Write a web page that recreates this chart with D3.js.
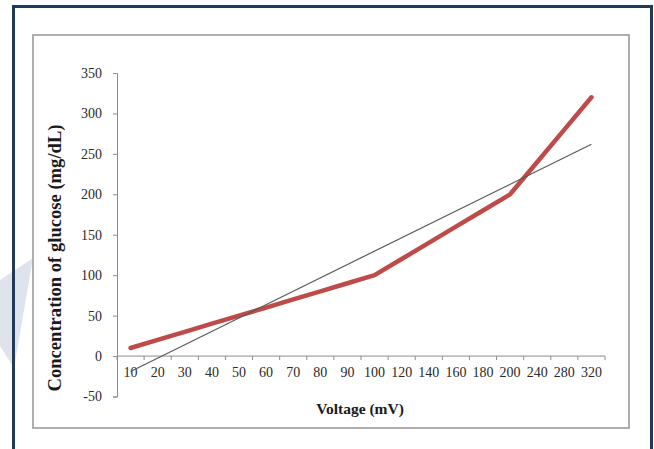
<!DOCTYPE html>
<html>
<head>
<meta charset="utf-8">
<script src="https://cdn.jsdelivr.net/npm/d3@7/dist/d3.min.js"></script>
<style>
  html, body { margin: 0; padding: 0; background: #ffffff; }
  svg { display: block; }
</style>
</head>
<body>
<svg id="chart" width="654" height="449"></svg>
<script>
// ---- data ----
const categories = ["10","20","30","40","50","60","70","80","90","100","120","140","160","180","200","240","280","320"];
const glucose = [10, 20, 30, 40, 50, 60, 70, 80, 90, 100, 120, 140, 160, 180, 200, 240, 280, 320];
const trendCategories = ["10", "320"];
const trendValues = [-19, 262];
const yTicks = [-50, 0, 50, 100, 150, 200, 250, 300, 350];
const xTitle = "Voltage (mV)";
const yTitle = "Concentration of glucose (mg/dL)";

const svg = d3.select("#chart");

// watermark shape
svg.append("path")
  .attr("d", "M0,280 L33,258 L14,368 L0,346 Z")
  .attr("fill", "#dfe4ec");

// outer frame
svg.append("rect")
  .attr("x", 13.5).attr("y", 6.5).attr("width", 638).attr("height", 460)
  .attr("fill", "none").attr("stroke", "#213a5c").attr("stroke-width", 3);

// inner chart box
svg.append("rect")
  .attr("x", 33).attr("y", 35).attr("width", 596).attr("height", 393)
  .attr("fill", "#ffffff").attr("stroke", "#a6a6a6").attr("stroke-width", 1.8);

const x = d3.scaleBand().domain(categories).range([117, 605]).padding(0);
const y = d3.scaleLinear().domain([-50, 350]).range([396.5, 73]);

const font = "'Liberation Serif', 'Times New Roman', serif";

// y axis
const yAxis = svg.append("g")
  .attr("transform", `translate(${x.range()[0]},0)`)
  .call(d3.axisLeft(y).tickValues(yTicks).tickSize(4).tickPadding(11).tickFormat(d => String(d)));
yAxis.select(".domain").attr("stroke", "#8c8c8c");
yAxis.selectAll(".tick line").attr("stroke", "#8c8c8c");
yAxis.selectAll("text").attr("font-family", font).attr("font-size", 14).attr("fill", "#2a2a2a");

// x axis at zero
const xAxis = svg.append("g")
  .attr("transform", `translate(0,${y(0)})`)
  .call(d3.axisBottom(x).tickSize(0).tickPadding(11));
xAxis.select(".domain").attr("stroke", "#8c8c8c").attr("d", `M${x.range()[0]},0H${x.range()[1]}`);
xAxis.selectAll("text").attr("font-family", font).attr("font-size", 14).attr("fill", "#2a2a2a");
// tick marks at category boundaries
const bounds = categories.map(c => x(c)).concat([x.range()[1]]);
xAxis.selectAll(".bnd").data(bounds).enter().append("line")
  .attr("class", "bnd")
  .attr("x1", d => d).attr("x2", d => d)
  .attr("y1", 0).attr("y2", 4)
  .attr("stroke", "#8c8c8c");

// titles
svg.append("text")
  .attr("x", 360).attr("y", 414)
  .attr("text-anchor", "middle")
  .attr("font-family", font).attr("font-weight", "bold").attr("font-size", 15.5)
  .attr("fill", "#1a1a1a")
  .text(xTitle);

svg.append("text")
  .attr("transform", `translate(54,258) rotate(-90)`)
  .attr("text-anchor", "middle")
  .attr("dominant-baseline", "central")
  .attr("font-family", font).attr("font-weight", "bold").attr("font-size", 18.6)
  .attr("fill", "#1a1a1a")
  .text(yTitle);

const cx = c => x(c) + x.bandwidth() / 2;

// data line
const line = d3.line().x(d => cx(d[0])).y(d => y(d[1]));
svg.append("path")
  .datum(categories.map((c, i) => [c, glucose[i]]))
  .attr("d", line)
  .attr("fill", "none")
  .attr("stroke", "#be4b48")
  .attr("stroke-width", 4.5)
  .attr("stroke-linejoin", "round")
  .attr("stroke-linecap", "round");

// trendline
svg.append("path")
  .datum(trendCategories.map((c, i) => [c, trendValues[i]]))
  .attr("d", line)
  .attr("fill", "none")
  .attr("stroke", "#5a5a5a")
  .attr("stroke-width", 1.2);
</script>
</body>
</html>
